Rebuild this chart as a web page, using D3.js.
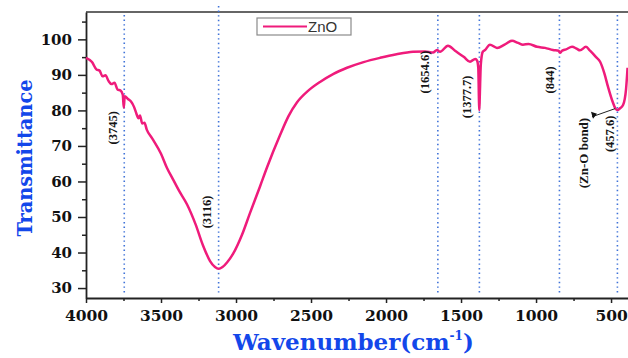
<!DOCTYPE html>
<html>
<head>
<meta charset="utf-8">
<script src="https://cdn.jsdelivr.net/npm/d3@7"></script>
<style>
  html, body { margin: 0; padding: 0; background: #fff; }
  svg { display: block; }
</style>
</head>
<body>
<svg id="chart" width="628" height="358"></svg>
<script>
// FTIR spectrum of ZnO: wavenumber (cm^-1) vs transmittance (%)
const wavenumber = [
  4000, 3960, 3930, 3910, 3890, 3870, 3850, 3830, 3810, 3790, 3770, 3755, 3748, 3742,
  3720, 3700, 3680, 3665, 3650, 3640, 3625, 3610, 3595, 3560, 3500, 3460, 3420, 3380,
  3327, 3270, 3220, 3173, 3140, 3116, 3090, 3060, 3020, 2960, 2907, 2840, 2793, 2707,
  2650, 2593, 2520, 2440, 2350, 2260, 2150, 2040, 1930, 1820, 1740, 1687, 1660, 1640,
  1587, 1540, 1480, 1440, 1405, 1393, 1385, 1380, 1378, 1375, 1368, 1355, 1340, 1307,
  1260, 1210, 1160, 1120, 1087, 1050, 993, 940, 887, 850, 840, 827, 800, 760, 730, 707,
  667, 640, 600, 573, 545, 520, 490, 470, 457.6, 440, 420, 400, 390
];
const transmittance = [
  94.8, 93.6, 91.5, 91.2, 89.6, 89.9, 88.3, 87.4, 87.8, 85.9, 85.6, 84.4, 80.8, 84.0,
  83.2, 82.5, 81.0, 79.2, 77.8, 78.6, 76.3, 76.5, 74.6, 72.2, 67.8, 63.8, 60.6, 57.4,
  53.6, 48.0, 42.0, 37.6, 35.9, 35.4, 35.9, 37.2, 39.6, 45.0, 51.1, 58.6, 64.0, 73.0,
  78.4, 82.3, 85.5, 88.0, 90.3, 92.0, 93.6, 94.8, 95.8, 96.5, 96.6, 96.3, 97.0, 96.5,
  98.2, 96.8, 95.0, 93.7, 94.5, 94.0, 92.0, 82.0, 80.1, 84.0, 93.0, 96.5, 97.0, 98.5,
  97.6, 98.5, 99.6, 99.0, 98.5, 98.7, 97.9, 97.6, 97.0, 96.8, 96.2, 96.8, 97.2, 97.9, 97.4, 96.9,
  97.9, 96.8, 95.0, 93.7, 90.5, 86.6, 82.5, 80.5, 80.1, 80.6, 81.5, 86.0, 92.0
];

// Marked band positions and their labels
const bandPositions = [3745, 3116, 1654.6, 1377.7, 844, 457.6];
const bandLabels = ["(3745)", "(3116)", "(1654.6)", "(1377.7)", "(844)", "(457.6)"];
// Label anchors (wavenumber, transmittance) for each band label, plus the Zn-O note
const labelAnchorW = [3820, 3193, 1740, 1460, 907, 507];
const labelAnchorT = [75.1, 51.4, 90.8, 83.8, 88.6, 73.4];
const noteText = "(Zn-O bond)";
const noteAnchor = [687, 68];
const noteArrowFrom = [627, 78.2];
const noteArrowTo = [473, 80.5];

const xTicks = [4000, 3500, 3000, 2500, 2000, 1500, 1000, 500];
const xMinorTicks = [3750, 3250, 2750, 2250, 1750, 1250, 750];
const yTicks = [30, 40, 50, 60, 70, 80, 90, 100];
const yMinorTicks = [35, 45, 55, 65, 75, 85, 95, 105];

const seriesName = "ZnO";
const xTitle = "Wavenumber(cm";
const xTitleSup = "-1";
const yTitle = "Transmittance";

const svg = d3.select("#chart");
const plotLeft = 86, plotRight = 628, plotTop = 12, plotBottom = 298;

const x = d3.scaleLinear().domain([4000, 387]).range([plotLeft, plotRight]);
const y = d3.scaleLinear().domain([27.2, 107.7]).range([plotBottom, plotTop]);

const pink = "#ef1b7b";
const blue = "#1347ea";

// plot frame (top edge)
svg.append("line")
  .attr("x1", plotLeft).attr("x2", plotRight).attr("y1", plotTop).attr("y2", plotTop)
  .attr("stroke", "#333").attr("stroke-width", 1.5);

// dotted band markers
svg.append("g").selectAll("line").data(bandPositions).join("line")
  .attr("x1", d => x(d)).attr("x2", d => x(d))
  .attr("y1", (d, i) => i === 1 ? plotTop - 6 : plotTop + 3)
  .attr("y2", plotBottom - 3)
  .attr("stroke", "#3f72d8")
  .attr("stroke-width", 1.6)
  .attr("stroke-dasharray", "1.4,3.2");

// minor ticks
svg.append("g").attr("transform", `translate(0,${plotBottom})`)
  .call(d3.axisBottom(x).tickValues(xMinorTicks).tickSize(3).tickFormat(""))
  .call(g => g.select(".domain").remove())
  .selectAll("line").attr("stroke", "#222").attr("stroke-width", 1.5);
svg.append("g").attr("transform", `translate(${plotLeft},0)`)
  .call(d3.axisLeft(y).tickValues(yMinorTicks).tickSize(4).tickFormat(""))
  .call(g => g.select(".domain").remove())
  .selectAll("line").attr("stroke", "#222").attr("stroke-width", 1.5);

// major axes
const xAxis = svg.append("g").attr("transform", `translate(0,${plotBottom})`)
  .call(d3.axisBottom(x).tickValues(xTicks).tickFormat(d3.format("d"))
    .tickSize(5).tickPadding(7).tickSizeOuter(0));
const yAxis = svg.append("g").attr("transform", `translate(${plotLeft},0)`)
  .call(d3.axisLeft(y).tickValues(yTicks).tickFormat(d3.format("d"))
    .tickSize(8).tickPadding(6).tickSizeOuter(0));

[xAxis, yAxis].forEach(g => {
  g.select(".domain").attr("stroke", "#222").attr("stroke-width", 1.8);
  g.selectAll(".tick line").attr("stroke", "#222").attr("stroke-width", 1.5);
  g.selectAll(".tick text")
    .attr("fill", "#111")
    .style("font-family", "'DejaVu Serif', serif")
    .style("font-weight", "bold");
});
xAxis.selectAll(".tick text").style("font-size", "15.5px");
yAxis.selectAll(".tick text").style("font-size", "15px");

// spectrum
const line = d3.line()
  .x((d, i) => x(wavenumber[i]))
  .y(d => y(d))
  .curve(d3.curveMonotoneX);
svg.append("path")
  .datum(transmittance)
  .attr("d", line)
  .attr("fill", "none")
  .attr("stroke", pink)
  .attr("stroke-width", 2.5)
  .attr("stroke-linejoin", "round");

// band labels (rotated)
const labels = svg.append("g")
  .style("font-family", "'Liberation Serif', serif")
  .style("font-weight", "bold")
  .style("font-size", "12.5px")
  .attr("fill", "#151515");
bandLabels.forEach((t, i) => {
  labels.append("text")
    .attr("transform", `translate(${x(labelAnchorW[i])},${y(labelAnchorT[i])}) rotate(-90)`)
    .attr("text-anchor", "middle")
    .attr("dy", "0.35em")
    .text(t);
});
labels.append("text")
  .attr("transform", `translate(${x(noteAnchor[0])},${y(noteAnchor[1])}) rotate(-90)`)
  .attr("text-anchor", "middle")
  .attr("dy", "0.35em")
  .style("font-size", "13px")
  .text(noteText);

// pointer from the Zn-O note to the band
svg.append("line")
  .attr("x1", x(noteArrowFrom[0])).attr("y1", y(noteArrowFrom[1]))
  .attr("x2", x(noteArrowTo[0])).attr("y2", y(noteArrowTo[1]))
  .attr("stroke", "#222").attr("stroke-width", 1);
{
  const ax = x(noteArrowFrom[0]), ay = y(noteArrowFrom[1]);
  svg.append("path")
    .attr("d", `M${ax - 1},${ay - 5} L${ax + 5},${ay - 3} L${ax + 1},${ay + 2} Z`)
    .attr("fill", "#111");
}

// legend
const lg = svg.append("g").attr("transform", "translate(257,18)");
lg.append("rect").attr("width", 94).attr("height", 17)
  .attr("fill", "#fff").attr("stroke", "#8a8a8a").attr("stroke-width", 1.2);
lg.append("line").attr("x1", 6).attr("x2", 50).attr("y1", 8.5).attr("y2", 8.5)
  .attr("stroke", pink).attr("stroke-width", 2);
lg.append("text").attr("x", 51).attr("y", 14)
  .style("font-family", "'Liberation Sans', Arial, sans-serif")
  .style("font-size", "15px")
  .attr("fill", "#333")
  .text(seriesName);

// axis titles
const xt = svg.append("text")
  .attr("x", 233).attr("y", 350)
  .attr("fill", blue)
  .style("font-family", "'DejaVu Serif', serif")
  .style("font-weight", "bold")
  .style("font-size", "23px");
xt.append("tspan").text(xTitle);
xt.append("tspan").attr("dy", "-10").style("font-size", "12px").text(xTitleSup);
xt.append("tspan").attr("dy", "10").text(")");

svg.append("text")
  .attr("transform", "translate(32,158) rotate(-90)")
  .attr("text-anchor", "middle")
  .attr("fill", blue)
  .style("font-family", "'DejaVu Serif', serif")
  .style("font-weight", "bold")
  .style("font-size", "21px")
  .attr("textLength", 157)
  .attr("lengthAdjust", "spacingAndGlyphs")
  .text(yTitle);
</script>
</body>
</html>
